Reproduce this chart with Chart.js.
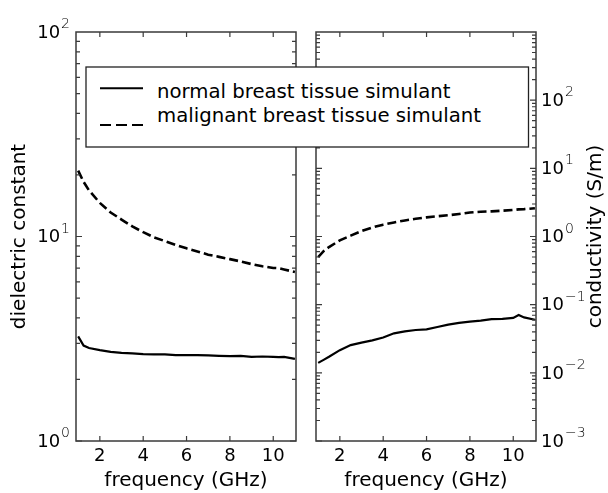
<!DOCTYPE html>
<html><head><meta charset="utf-8">
<script src="https://cdn.jsdelivr.net/npm/chart.js@4.4.1/dist/chart.umd.min.js"></script>
<style>
html,body{margin:0;padding:0;background:#fff;}
#wrap{position:relative;width:608px;height:493px;overflow:hidden;background:#fff;}
#cL{position:absolute;left:0;top:0;}
#cR{position:absolute;left:306px;top:0;}
#leg{position:absolute;left:0;top:0;pointer-events:none;}
</style></head><body>
<div id="wrap">
<canvas id="cL" width="306" height="493"></canvas>
<canvas id="cR" width="302" height="493"></canvas>
<svg id="leg" width="608" height="493" xmlns="http://www.w3.org/2000/svg">
  <rect x="86" y="67" width="442.5" height="80" fill="#fff" stroke="#222" stroke-width="1.3"/>
  <line x1="100" y1="88.3" x2="143" y2="88.3" stroke="#000" stroke-width="2"/>
  <line x1="100" y1="125" x2="143" y2="125" stroke="#000" stroke-width="2.2" stroke-dasharray="11 5"/>
  <text id="lt0" x="157" y="98.3" font-family="DejaVu Sans" font-size="19.7" fill="#000"></text>
  <text id="lt1" x="157" y="121.7" font-family="DejaVu Sans" font-size="19.7" fill="#000"></text>
</svg>
</div>
<script>
const frequency = [1.0,1.25,1.5,2,2.5,3,3.5,4,4.5,5,5.5,6,6.5,7,7.5,8,8.5,9,9.5,10,10.25,10.5,11];
const seriesNames = ['normal breast tissue simulant','malignant breast tissue simulant'];
const dielectricNormal    = [3.25,2.93,2.85,2.78,2.73,2.70,2.68,2.66,2.65,2.65,2.63,2.63,2.63,2.62,2.61,2.60,2.61,2.58,2.59,2.58,2.57,2.58,2.52];
const dielectricMalignant = [21.0,18.5,16.8,14.6,13.1,12.1,11.2,10.5,9.9,9.5,9.1,8.75,8.45,8.15,7.95,7.75,7.55,7.33,7.15,7.02,7.0,6.9,6.7];
const conductivityNormal    = [0.0140,0.0155,0.0172,0.0215,0.0255,0.0278,0.0300,0.0330,0.0380,0.0405,0.0425,0.0435,0.0470,0.0510,0.0540,0.0565,0.0585,0.0615,0.0620,0.0640,0.0705,0.0650,0.0600];
const conductivityMalignant = [0.50,0.61,0.70,0.88,1.03,1.20,1.36,1.49,1.61,1.72,1.82,1.91,1.98,2.05,2.14,2.25,2.31,2.34,2.39,2.45,2.50,2.52,2.60];
const xTickValues = [2,4,6,8,10];
const dielectricExponents = [0,1,2];
const conductivityExponents = [-3,-2,-1,0,1,2];
const yTitles = ['dielectric constant','conductivity (S/m)'];
const xTitle = 'frequency (GHz)';

const FONTFAM = "'DejaVu Sans', sans-serif";

document.getElementById('lt0').textContent = seriesNames[0];
document.getElementById('lt1').textContent = seriesNames[1];

function decorPlugin(side, yTitle, labelExps, minExp, maxExp){
  return { id:'decor', afterDraw(chart){
    const ctx = chart.ctx, a = chart.chartArea, xs = chart.scales.x, ys = chart.scales.y;
    ctx.save();
    ctx.strokeStyle = '#3a3a3a'; ctx.lineWidth = 1.5;
    ctx.strokeRect(a.left, a.top, a.right - a.left, a.bottom - a.top);
    ctx.lineWidth = 1.2;
    ctx.beginPath();
    xTickValues.forEach(v => {
      const p = xs.getPixelForValue(v);
      ctx.moveTo(p, a.bottom); ctx.lineTo(p, a.bottom - 5);
      ctx.moveTo(p, a.top); ctx.lineTo(p, a.top + 5);
    });
    for (let e = minExp; e < maxExp; e++) {
      for (let m = 1; m < 10; m++) {
        const v = m * Math.pow(10, e);
        const p = ys.getPixelForValue(v);
        const len = m === 1 ? 6 : 4;
        ctx.moveTo(a.left, p); ctx.lineTo(a.left + len, p);
        ctx.moveTo(a.right, p); ctx.lineTo(a.right - len, p);
      }
    }
    ctx.stroke();
    ctx.fillStyle = '#000';
    labelExps.forEach(e => {
      const y = ys.getPixelForValue(Math.pow(10, e));
      const base = '10';
      const ex = e < 0 ? '\u2212' + (-e) : String(e);
      ctx.font = '18px ' + FONTFAM; const wb = ctx.measureText(base).width;
      ctx.font = '200 14px ' + FONTFAM; const we = ctx.measureText(ex).width;
      const xb = side === 'left' ? a.left - 6 - we - 1 - wb : a.right + 5;
      ctx.font = '18px ' + FONTFAM; ctx.textAlign = 'left'; ctx.textBaseline = 'middle';
      ctx.fillText(base, xb, y + 1);
      ctx.font = '200 14px ' + FONTFAM; ctx.textBaseline = 'alphabetic';
      ctx.fillText(ex, xb + wb + 1, y - 4);
    });
    ctx.font = '20px ' + FONTFAM; ctx.textAlign = 'center'; ctx.textBaseline = 'middle';
    const tx = side === 'left' ? 20 : a.right + 60;
    ctx.translate(tx, (a.top + a.bottom) / 2);
    ctx.rotate(-Math.PI / 2);
    ctx.fillText(yTitle, 0, 0);
    ctx.restore();
  }};
}

function makeChart(id, dataN, dataM, yMin, yMax, pad, plugin){
  return new Chart(document.getElementById(id), {
    type: 'line',
    data: { datasets: [
      { label: seriesNames[0], data: frequency.map((f,i) => ({x:f, y:dataN[i]})), borderColor:'#000', borderWidth:2.2, pointRadius:0, fill:false, tension:0 },
      { label: seriesNames[1], data: frequency.map((f,i) => ({x:f, y:dataM[i]})), borderColor:'#000', borderWidth:2.6, borderDash:[9,4], pointRadius:0, fill:false, tension:0 }
    ]},
    options: {
      responsive:false, animation:false, devicePixelRatio:1,
      layout: { padding: pad },
      plugins: { legend:{display:false}, tooltip:{enabled:false} },
      scales: {
        x: { type:'linear', min:0.9, max:11.05,
             afterBuildTicks: s => { s.ticks = xTickValues.map(v => ({value:v})); },
             afterFit: s => { s.height = 52; },
             grid: { display:false, drawTicks:false }, border: { display:false },
             ticks: { font:{family:FONTFAM, size:18}, color:'#000', padding:5, maxRotation:0, autoSkip:false },
             title: { display:true, text:xTitle, font:{family:FONTFAM, size:20}, color:'#000', padding:0 } },
        y: { type:'logarithmic', min:yMin, max:yMax, display:false }
      }
    },
    plugins: [plugin]
  });
}

makeChart('cL', dielectricNormal, dielectricMalignant, 1, 100, {left:76, right:10, top:32, bottom:0},
  decorPlugin('left', yTitles[0], dielectricExponents, 0, 2));
makeChart('cR', conductivityNormal, conductivityMalignant, 0.001, 1000, {left:10, right:72, top:32, bottom:0},
  decorPlugin('right', yTitles[1], conductivityExponents, -3, 3));
</script>
</body></html>
